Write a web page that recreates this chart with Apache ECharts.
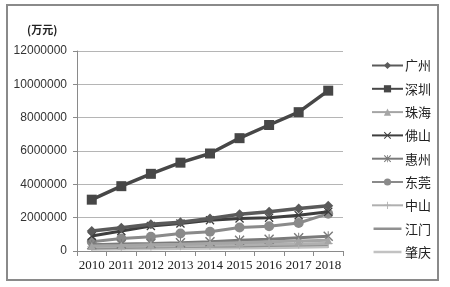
<!DOCTYPE html>
<html><head><meta charset="utf-8">
<script src="https://cdn.jsdelivr.net/npm/echarts@6/dist/echarts.min.js"></script>
<style>html,body{margin:0;padding:0;background:#fff}#c{width:450px;height:287px}
#frame{position:absolute;left:6px;top:4px;width:433px;height:277px;border:2px solid #8a8a8a;box-sizing:border-box;pointer-events:none}</style>
</head><body><div id="c"></div><div id="frame"></div>
<script>
const years = ['2010','2011','2012','2013','2014','2015','2016','2017','2018'];
const cities = ['广州','深圳','珠海','佛山','惠州','东莞','中山','江门','肇庆'];
const guangzhou = [1200000,1400000,1600000,1720000,1950000,2200000,2350000,2550000,2720000];
const shenzhen  = [3080000,3890000,4630000,5300000,5850000,6770000,7560000,8330000,9620000];
const zhuhai    = [300000,330000,370000,400000,450000,500000,550000,600000,650000];
const foshan    = [900000,1200000,1500000,1650000,1850000,1950000,2000000,2150000,2350000];
const huizhou   = [380000,420000,450000,500000,560000,650000,700000,800000,880000];
const dongguan  = [550000,750000,850000,1050000,1150000,1410000,1490000,1680000,2240000];
const zhongshan = [250000,280000,300000,320000,350000,380000,400000,420000,450000];
const jiangmen  = [200000,230000,250000,280000,300000,320000,350000,380000,400000];
const zhaoqing  = [100000,120000,140000,150000,170000,180000,200000,220000,250000];
const yTicks = [0,2000000,4000000,6000000,8000000,10000000,12000000];

const X = 'path://M0,1L1,0L5,4L9,0L10,1L6,5L10,9L9,10L5,6L1,10L0,9L4,5Z';
const AST = 'path://M0,1L1,0L4.5,3.5L4.5,0L5.5,0L5.5,3.5L9,0L10,1L6,5L10,9L9,10L5.5,6.5L5.5,10L4.5,10L4.5,6.5L1,10L0,9L4,5Z';
const PLUS = 'path://M4.4,0H5.6V4.4H10V5.6H5.6V10H4.4V5.6H0V4.4H4.4Z';
const LINEICON = 'path://M0,0L0.01,0L0.01,0.01Z M0,3.7H31V6.5H0Z M0,10L0.01,10L0.01,9.99Z';

const dataMap = [guangzhou,shenzhen,zhuhai,foshan,huizhou,dongguan,zhongshan,jiangmen,zhaoqing];
const styles = [
  {c:'#5a5a5a', sym:'diamond', sz:10, w:3.5},
  {c:'#474747', sym:'rect', sz:10, w:3.5},
  {c:'#a5a5a5', sym:'triangle', sz:8, w:3},
  {c:'#3e3e3e', sym:X, sz:9, w:3},
  {c:'#7a7a7a', sym:AST, sz:10, w:3},
  {c:'#8a8a8a', sym:'circle', sz:10, w:3},
  {c:'#b0b0b0', sym:PLUS, sz:9, w:3},
  {c:'#909090', sym:'none', sz:0, w:3.5},
  {c:'#c2c2c2', sym:'none', sz:0, w:3}
];
const series = cities.map((n,i)=>({
  name:n, type:'line', data:dataMap[i],
  symbol: styles[i].sym, symbolSize: styles[i].sz, showSymbol: styles[i].sym!=='none',
  lineStyle:{color:styles[i].c, width:styles[i].w},
  itemStyle:{color:styles[i].c},
  z: 10-i
}));

const chart = echarts.init(document.getElementById('c'));
chart.setOption({
  animation:false,
  title:{text:'(万元)', left:22, top:19, textStyle:{fontSize:11, fontWeight:'bold', color:'#222', fontFamily:'Noto Sans CJK SC'}},
  grid:{left:77, right:107, top:51, bottom:36},
  legend:{orient:'vertical', left:366, top:54, bottom:3, itemWidth:31, itemHeight:9, itemGap:10.3,
    textStyle:{fontSize:13, color:'#222', fontFamily:'Noto Sans CJK SC', padding:[0,0,0,-3]},
    data:cities.map((n,i)=> styles[i].sym==='none' ? {name:n, icon:LINEICON} : {name:n})},
  xAxis:{type:'category', data:years, boundaryGap:true,
    axisLine:{lineStyle:{color:'#8a8a8a'}},
    axisTick:{show:true, length:5, lineStyle:{color:'#8a8a8a'}},
    axisLabel:{fontSize:13, color:'#222', fontFamily:'Liberation Serif', margin:8, interval:0}},
  yAxis:{type:'value', min:0, max:12000000, interval:2000000,
    axisLine:{show:true, lineStyle:{color:'#8a8a8a'}},
    axisTick:{show:true, length:4, lineStyle:{color:'#8a8a8a'}},
    splitLine:{lineStyle:{color:'#b5b5b5'}},
    axisLabel:{fontSize:12, color:'#333', fontFamily:'Liberation Sans', margin:10,
      formatter:v=>yTicks.includes(v)?String(v):''}},
  series:series
});
</script></body></html>
